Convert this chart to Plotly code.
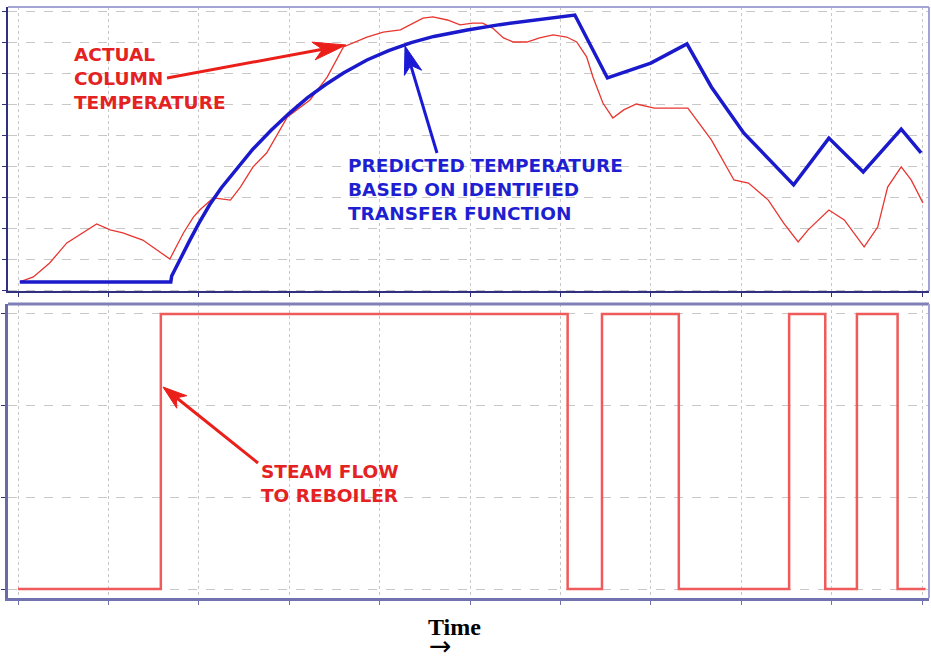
import math
import plotly.graph_objects as go

# ---------------- data ----------------
# Top panel: time (x) in tick units 0..10, temperature in grid units 0..9
actual_time = [0.02, 0.17, 0.35, 0.54, 0.87, 1.02, 1.16, 1.38, 1.68, 1.83, 1.94, 2.01,
               2.16, 2.35, 2.46, 2.60, 2.75, 2.98, 3.23, 3.42, 3.60, 3.86, 4.04, 4.23,
               4.48, 4.59, 4.75, 4.89, 5.03, 5.14, 5.25, 5.37, 5.48, 5.63, 5.77, 5.92,
               6.07, 6.18, 6.29, 6.36, 6.47, 6.58, 6.70, 6.84, 7.04, 7.41, 7.67, 7.92,
               8.08, 8.30, 8.47, 8.63, 8.74, 8.97, 9.14, 9.36, 9.51, 9.62, 9.77, 9.88,
               10.01]
actual_temp = [0.26, 0.42, 0.87, 1.52, 2.13, 1.94, 1.84, 1.61, 1.00, 1.84, 2.35, 2.58,
               2.97, 2.90, 3.32, 3.97, 4.42, 5.58, 6.13, 6.87, 7.84, 8.16, 8.32, 8.39,
               8.77, 8.81, 8.71, 8.55, 8.61, 8.61, 8.45, 8.13, 8.00, 8.00, 8.13, 8.23,
               8.16, 8.00, 7.52, 6.87, 6.03, 5.55, 5.81, 6.00, 5.87, 5.87, 4.84, 3.55,
               3.45, 2.90, 2.16, 1.55, 1.94, 2.58, 2.26, 1.39, 2.03, 3.32, 3.97, 3.55,
               2.81]

predicted_time = [0.02, 1.69, 1.70, 1.80, 1.90, 2.00, 2.12, 2.25, 2.40, 2.60, 2.80, 3.00,
                  3.20, 3.40, 3.60, 3.86, 4.10, 4.35, 4.60, 4.97, 5.33, 5.70, 6.16,
                  6.52, 7.00, 7.40, 7.67, 8.03, 8.58, 8.97, 9.35, 9.77, 9.99]
predicted_temp = [0.26, 0.26, 0.45, 1.05, 1.60, 2.15, 2.75, 3.30, 3.85, 4.55, 5.15, 5.70,
                  6.20, 6.62, 7.00, 7.42, 7.72, 7.98, 8.18, 8.39, 8.56, 8.71, 8.87,
                  6.84, 7.32, 7.94, 6.55, 5.06, 3.39, 4.90, 3.81, 5.19, 4.42]

# Bottom panel: steam flow on/off steps
steam_time = [0.0, 1.58, 6.08, 6.46, 7.31, 8.53, 8.93, 9.28, 9.73, 10.04]
steam_level = [0, 3, 0, 3, 0, 3, 0, 3, 0, 0]

x_ticks = list(range(0, 11))
top_y_ticks = list(range(0, 10))
bottom_y_ticks = list(range(0, 4))

# ---------------- layout helpers ----------------
W, H = 931, 662


def fx(p):
    return p / W


def fy(p):
    return 1 - p / H


LEFT, RIGHT = 8, 929
TOP1, BOT1 = 7, 291
TOP2, BOT2 = 304, 598

x_range = [(LEFT - 18) / 90.4, (RIGHT - 18) / 90.4]
y1_range = [(290 - BOT1) / 31.0, (290 - TOP1) / 31.0]
y2_range = [(589 - BOT2) / 91.67, (589 - TOP2) / 91.67]

fig = go.Figure()

fig.add_trace(go.Scatter(x=actual_time, y=actual_temp, mode="lines",
                         line=dict(color="#e8352f", width=1.3),
                         xaxis="x", yaxis="y", hoverinfo="skip"))
fig.add_trace(go.Scatter(x=predicted_time, y=predicted_temp, mode="lines",
                         line=dict(color="#1a1acc", width=3.5),
                         xaxis="x", yaxis="y", hoverinfo="skip"))
fig.add_trace(go.Scatter(x=steam_time, y=steam_level, mode="lines",
                         line=dict(color="#ef5a5a", width=2.5, shape="hv"),
                         xaxis="x2", yaxis="y2", hoverinfo="skip"))

dark = "#30307f"
grid = "#c8c8c8"

common_x = dict(domain=[fx(LEFT), fx(RIGHT)], range=x_range, tickvals=x_ticks,
                showticklabels=False, ticks="outside", ticklen=4, tickwidth=1,
                showgrid=True, gridcolor=grid, gridwidth=1, griddash="dot",
                zeroline=False, showline=True, fixedrange=True)

fig.update_layout(
    width=W, height=H,
    margin=dict(l=0, r=0, t=0, b=0),
    paper_bgcolor="white", plot_bgcolor="white",
    showlegend=False,
    xaxis=dict(**common_x, anchor="y", linecolor=dark, linewidth=2, tickcolor=dark),
    yaxis=dict(domain=[fy(BOT1), fy(TOP1)], range=y1_range, tickvals=top_y_ticks,
               showticklabels=False, ticks="outside", ticklen=4, tickcolor=dark,
               showgrid=True, gridcolor=grid, gridwidth=1, griddash="dash",
               zeroline=False, showline=True, linecolor=dark, linewidth=2,
               anchor="x", fixedrange=True),
    xaxis2=dict(**common_x, anchor="y2", linecolor="#7272b0", linewidth=3,
                tickcolor="#7272b0"),
    yaxis2=dict(domain=[fy(BOT2), fy(TOP2)], range=y2_range, tickvals=bottom_y_ticks,
                showticklabels=False, ticks="outside", ticklen=4, tickcolor=dark,
                showgrid=True, gridcolor=grid, gridwidth=1, griddash="dash",
                zeroline=False, showline=True, linecolor="#6a6aa8", linewidth=3,
                anchor="x2", fixedrange=True),
)

# lighter top / right borders of the panels
light = "#a4a4d4"
fig.add_shape(type="line", xref="paper", yref="paper", x0=fx(LEFT), x1=fx(RIGHT),
              y0=fy(TOP1), y1=fy(TOP1), line=dict(color=light, width=2))
fig.add_shape(type="line", xref="paper", yref="paper", x0=fx(RIGHT), x1=fx(RIGHT),
              y0=fy(BOT1), y1=fy(TOP1), line=dict(color=light, width=2))
fig.add_shape(type="line", xref="paper", yref="paper", x0=fx(LEFT), x1=fx(RIGHT),
              y0=fy(TOP2), y1=fy(TOP2), line=dict(color="#8080b8", width=3))
fig.add_shape(type="line", xref="paper", yref="paper", x0=fx(RIGHT), x1=fx(RIGHT),
              y0=fy(BOT2), y1=fy(TOP2), line=dict(color=light, width=2))

red_txt = "#e42222"
blue_txt = "#1f1fd2"
font_lbl = "DejaVu Sans"

# text labels
fig.add_annotation(xref="paper", yref="paper", x=fx(72), y=fy(78),
                   xanchor="left", yanchor="middle", align="left", showarrow=False,
                   text="<b>ACTUAL<br>COLUMN<br>TEMPERATURE</b>",
                   font=dict(family=font_lbl, size=18.5, color=red_txt))
fig.add_annotation(xref="paper", yref="paper", x=fx(346), y=fy(190),
                   xanchor="left", yanchor="middle", align="left", showarrow=False,
                   text="<b>PREDICTED TEMPERATURE<br>BASED ON IDENTIFIED<br>TRANSFER FUNCTION</b>",
                   font=dict(family=font_lbl, size=18.5, color=blue_txt))
fig.add_annotation(xref="paper", yref="paper", x=fx(259), y=fy(483),
                   xanchor="left", yanchor="middle", align="left", showarrow=False,
                   text="<b>STEAM FLOW<br>TO REBOILER</b>",
                   font=dict(family=font_lbl, size=18.5, color=red_txt))


# arrows: shaft line + elongated notched head (pixel geometry -> paper)
def add_arrow(tail, tip, color, head_len, half_w, width=3):
    tx, ty = tail
    hx, hy = tip
    dx, dy = hx - tx, hy - ty
    n = math.hypot(dx, dy)
    ux, uy = dx / n, dy / n
    px_, py_ = -uy, ux
    bx, by = hx - head_len * ux, hy - head_len * uy
    nx, ny = hx - 0.72 * head_len * ux, hy - 0.72 * head_len * uy
    fig.add_shape(type="line", xref="paper", yref="paper",
                  x0=fx(tx), y0=fy(ty), x1=fx(nx), y1=fy(ny),
                  line=dict(color=color, width=width))
    pts = [(hx, hy), (bx + half_w * px_, by + half_w * py_), (nx, ny),
           (bx - half_w * px_, by - half_w * py_)]
    path = "M " + " L ".join(f"{fx(a):.5f},{fy(b):.5f}" for a, b in pts) + " Z"
    fig.add_shape(type="path", xref="paper", yref="paper", path=path,
                  fillcolor=color, line=dict(color=color, width=1))


add_arrow((167, 78), (346, 45), "#ea1f1a", 33, 9)
add_arrow((437, 153), (405, 46), "#1a1ad6", 28, 9)
add_arrow((258, 463), (163, 387), "#ea1f1a", 24, 8)

# Time label
fig.add_annotation(xref="paper", yref="paper", x=fx(454), y=fy(627),
                   xanchor="center", yanchor="middle", showarrow=False,
                   text="<b>Time</b>",
                   font=dict(family="Liberation Serif", size=24, color="black"))
fig.add_annotation(xref="paper", yref="paper", x=fx(440), y=0,
                   xanchor="center", yanchor="bottom", showarrow=False,
                   text="→", borderpad=0,
                   font=dict(family="DejaVu Sans", size=27, color="black"))

fig.write_html("out.html")
